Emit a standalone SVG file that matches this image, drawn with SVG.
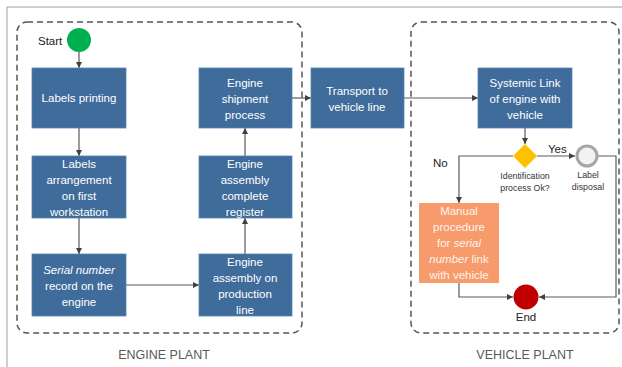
<svg xmlns="http://www.w3.org/2000/svg" width="622" height="367" viewBox="0 0 622 367">
<defs>
<marker id="ah" viewBox="0 0 10 10" refX="10" refY="5" markerWidth="6" markerHeight="6" orient="auto" markerUnits="userSpaceOnUse"><path d="M0,0 L10,5 L0,10 z" fill="#404040"/></marker>
<style>
.box{fill:#3F6C9A;stroke:#5B85B0;stroke-width:0.8}
.bt{font-family:"Liberation Sans",Arial,sans-serif;font-size:11.5px;fill:#FFFFFF;text-anchor:middle}
.ot{font-family:"Liberation Sans",Arial,sans-serif;font-size:11.5px;fill:#FFF3EC;text-anchor:middle}
.sm{font-family:"Liberation Sans",Arial,sans-serif;font-size:8.8px;fill:#333333;text-anchor:middle}
.lb{font-family:"Liberation Sans",Arial,sans-serif;font-size:11.5px;fill:#222222}
.pl{font-family:"Liberation Sans",Arial,sans-serif;font-size:12.5px;fill:#595959;text-anchor:middle}
.dash{fill:none;stroke:#555555;stroke-width:1.5;stroke-dasharray:6 4}
.ln{fill:none;stroke:#5A5A5A;stroke-width:1.2;marker-end:url(#ah)}
</style>
</defs>
<rect width="622" height="367" fill="#FFFFFF"/>
<path d="M7,367 V7 H622" fill="none" stroke="#9E9E9E" stroke-width="1"/>
<g id="engine-plant">
<rect class="dash" x="17" y="22" width="285" height="311" rx="10"/>
<text class="pl" x="164" y="359">ENGINE PLANT</text>
</g>
<g id="vehicle-plant">
<rect class="dash" x="411" y="22" width="208" height="311" rx="10"/>
<text class="pl" x="525" y="359">VEHICLE PLANT</text>
</g>
<g id="connectors">
<path class="ln" d="M79,52 V68"/>
<path class="ln" d="M79,128 V156"/>
<path class="ln" d="M79,218 V254"/>
<path class="ln" d="M126,285 H199"/>
<path class="ln" d="M245,254 V218"/>
<path class="ln" d="M245,156 V128"/>
<path class="ln" d="M292,98 H311"/>
<path class="ln" d="M404,98 H478"/>
<path class="ln" d="M525,128 V144"/>
<path class="ln" d="M537,156 H575"/>
<path class="ln" d="M513,156 H459 V203"/>
<path class="ln" d="M598,156 H616 V297 H539"/>
<path class="ln" d="M459,283 V297 H513"/>
</g>
<g id="start">
<circle cx="79" cy="40" r="12" fill="#00B050"/>
<text class="lb" x="38" y="45">Start</text>
</g>
<g id="labels-printing">
<rect class="box" x="32" y="68" width="94" height="60"/>
<text class="bt" x="79" y="102">Labels printing</text>
</g>
<g id="labels-arrangement">
<rect class="box" x="32" y="156" width="94" height="62"/>
<text class="bt" x="79" y="168">Labels</text>
<text class="bt" x="79" y="184">arrangement</text>
<text class="bt" x="79" y="200">on first</text>
<text class="bt" x="79" y="216">workstation</text>
</g>
<g id="serial-number">
<rect class="box" x="32" y="254" width="94" height="62"/>
<text class="bt" x="79" y="274"><tspan font-style="italic">Serial number</tspan></text>
<text class="bt" x="79" y="290">record on the</text>
<text class="bt" x="79" y="306">engine</text>
</g>
<g id="engine-shipment">
<rect class="box" x="199" y="68" width="93" height="60"/>
<text class="bt" x="245" y="87">Engine</text>
<text class="bt" x="245" y="103">shipment</text>
<text class="bt" x="245" y="119">process</text>
</g>
<g id="engine-assembly-register">
<rect class="box" x="199" y="156" width="93" height="62"/>
<text class="bt" x="245" y="168">Engine</text>
<text class="bt" x="245" y="184">assembly</text>
<text class="bt" x="245" y="200">complete</text>
<text class="bt" x="245" y="216">register</text>
</g>
<g id="engine-assembly-line">
<rect class="box" x="199" y="254" width="93" height="62"/>
<text class="bt" x="245" y="266">Engine</text>
<text class="bt" x="245" y="282">assembly on</text>
<text class="bt" x="245" y="298">production</text>
<text class="bt" x="245" y="314">line</text>
</g>
<g id="transport">
<rect class="box" x="311" y="68" width="93" height="60"/>
<text class="bt" x="357" y="95">Transport to</text>
<text class="bt" x="357" y="111">vehicle line</text>
</g>
<g id="systemic-link">
<rect class="box" x="478" y="68" width="94" height="60"/>
<text class="bt" x="525" y="87">Systemic Link</text>
<text class="bt" x="525" y="103">of engine with</text>
<text class="bt" x="525" y="119">vehicle</text>
</g>
<g id="decision">
<path d="M525,144 L537,156 L525,168 L513,156 z" fill="#FFC000"/>
<text class="sm" x="525" y="179">Identification</text>
<text class="sm" x="525" y="191">process Ok?</text>
<text class="lb" x="548" y="153">Yes</text>
<text class="lb" x="433" y="167">No</text>
</g>
<g id="label-disposal">
<circle cx="587" cy="156" r="10" fill="#F2F2F2" stroke="#A6A6A6" stroke-width="3"/>
<text class="sm" x="588" y="178">Label</text>
<text class="sm" x="588" y="190">disposal</text>
</g>
<g id="manual-procedure">
<rect x="419" y="203" width="80" height="80" fill="#F79B6C"/>
<text class="ot" x="459" y="215">Manual</text>
<text class="ot" x="459" y="231">procedure</text>
<text class="ot" x="459" y="247">for <tspan font-style="italic">serial</tspan></text>
<text class="ot" x="459" y="263"><tspan font-style="italic">number</tspan> link</text>
<text class="ot" x="459" y="279">with vehicle</text>
</g>
<g id="end">
<circle cx="526" cy="297" r="12.5" fill="#C00000"/>
<text class="lb" x="526" y="321" text-anchor="middle">End</text>
</g>
</svg>
